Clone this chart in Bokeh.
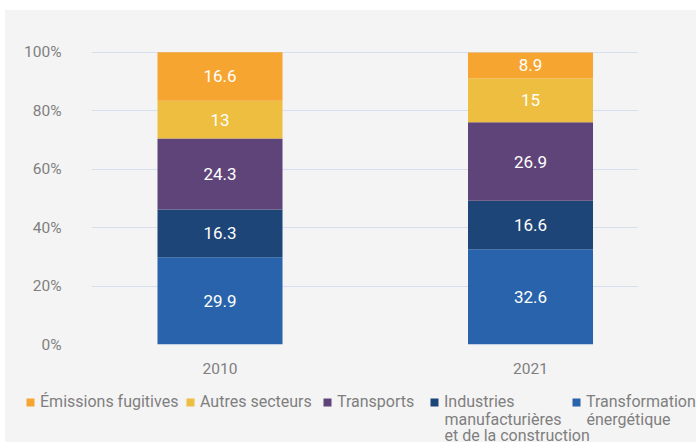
from bokeh.plotting import figure
from bokeh.models import (ColumnDataSource, Legend, LegendItem, Range1d, FixedTicker,
                          PrintfTickFormatter, LabelSet, Label)
from bokeh.layouts import column
from bokeh.core.properties import value
from bokeh.embed import file_html
from bokeh.resources import INLINE

years = ["2010", "2021"]
sectors = ["transformation", "industries", "transports", "autres", "fugitives"]
# first line of each legend label, and the wrapped continuation lines
legend_first = ["Transformation", "Industries", "Transports", "Autres secteurs",
                "Émissions fugitives"]
legend_more = [["énergétique"], ["manufacturières", "et de la construction"], [], [], []]
transformation = [29.9, 32.6]
industries = [16.3, 16.6]
transports = [24.3, 26.9]
autres = [13, 15]
fugitives = [16.6, 8.9]
y_ticks = [0, 20, 40, 60, 80, 100]

colors = ["#2863AB", "#1E4577", "#5F4479", "#EDBE40", "#F6A530"]
FONT = "Roboto"
GREY = "#7F7F7F"
BG = "#F4F4F4"

series = [transformation, industries, transports, autres, fugitives]
xs = list(range(len(years)))
data = {"x": xs, "year": years}
for name, vals in zip(sectors, series):
    data[name] = vals
source = ColumnDataSource(data)

p = figure(width=691, height=375, output_backend="svg", toolbar_location=None,
           x_range=Range1d(-0.4139, 1.3478), y_range=Range1d(0, 104.1),
           min_border_left=86, min_border_right=58, min_border_top=30,
           min_border_bottom=41)
p.frame_align = False
p.background_fill_color = BG
p.border_fill_color = BG
p.outline_line_color = None

renderers = p.vbar_stack(sectors, x="x", width=0.4026, source=source,
                         color=colors, line_color=None)

# value labels
lx, ly, lt = [], [], []
for i in range(len(years)):
    base = 0.0
    for vals in series:
        v = vals[i]
        lx.append(xs[i])
        ly.append(base + v / 2)
        lt.append(f"{v:g}")
        base += v
lab_src = ColumnDataSource(dict(x=lx, y=ly, t=lt))
p.add_layout(LabelSet(x="x", y="y", text="t", source=lab_src, text_color="white",
                      text_font=value(FONT), text_font_size="17px", text_align="center",
                      text_baseline="middle"))

# axes
p.yaxis.ticker = FixedTicker(ticks=y_ticks)
p.yaxis.formatter = PrintfTickFormatter(format="%d%%")
p.yaxis.axis_line_color = None
p.yaxis.major_tick_line_color = None
p.yaxis.minor_tick_line_color = None
p.yaxis.major_label_standoff = 24
p.yaxis.major_label_text_font = FONT
p.yaxis.major_label_text_font_size = "15.5px"
p.yaxis.major_label_text_color = GREY

p.xaxis.ticker = FixedTicker(ticks=xs)
p.xaxis.major_label_overrides = {x: y for x, y in zip(xs, years)}
p.xaxis.axis_line_color = None
p.xaxis.major_tick_line_color = None
p.xaxis.minor_tick_line_color = None
p.xaxis.major_label_standoff = 12
p.xaxis.major_label_text_font = FONT
p.xaxis.major_label_text_font_size = "15.5px"
p.xaxis.major_label_text_color = GREY

p.xgrid.grid_line_color = None
p.ygrid.grid_line_color = "#D9DDF0"
p.ygrid.grid_line_width = 1

# legend strip below the chart (bars here are kept outside the visible range;
# only their legend swatches show)
p2 = figure(width=691, height=57, output_backend="svg", toolbar_location=None,
            x_range=Range1d(10, 11), y_range=Range1d(200, 201), min_border=0,
            min_border_left=0, min_border_right=0, min_border_top=0,
            min_border_bottom=0, x_axis_type=None, y_axis_type=None)
p2.frame_align = False
p2.background_fill_color = BG
p2.border_fill_color = BG
p2.outline_line_color = None
p2.grid.visible = False

order = [4, 3, 2, 1, 0]
leg_x = [20, 180, 317, 424, 566]
line_y = [23, 7]
for k, idx in enumerate(order):
    r = p2.vbar(x="x", top=sectors[idx], width=0.4, source=source,
                color=colors[idx], line_color=None)
    leg = Legend(items=[LegendItem(label=legend_first[idx], renderers=[r])],
                 location=(leg_x[k], 31), orientation="horizontal",
                 padding=0, margin=0, border_line_color=None,
                 background_fill_alpha=0, glyph_width=10, glyph_height=10,
                 label_standoff=5, label_text_font=FONT, label_text_font_size="16px",
                 label_text_color=GREY, label_height=10)
    p2.add_layout(leg, "center")
    for j, txt in enumerate(legend_more[idx]):
        p2.add_layout(Label(x=leg_x[k] + 15, y=line_y[j], x_units="screen",
                            y_units="screen", text=txt, text_font=FONT,
                            text_font_size="16px", text_color=GREY,
                            text_baseline="middle", text_align="left"))

lay = column(p, p2, spacing=0)
lay.styles = {"margin-left": "5px", "margin-top": "10px", "background-color": BG}

open("out.html", "w").write(file_html(lay, INLINE))
